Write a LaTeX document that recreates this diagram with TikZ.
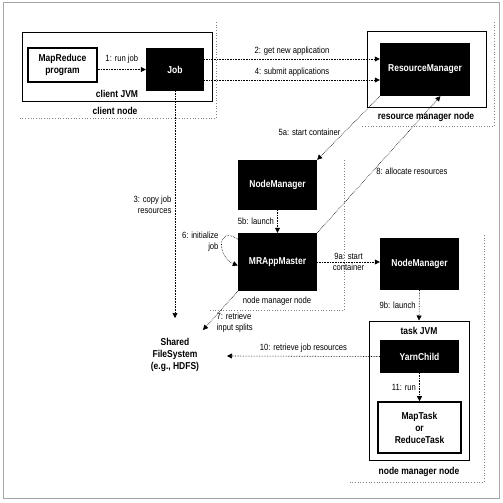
\documentclass[tikz,border=0pt]{standalone}
\usepackage{fontspec}
\setmainfont{Liberation Sans}[FakeStretch=0.85]
\usetikzlibrary{arrows.meta}

\begin{document}
\begin{tikzpicture}[x=1pt, y=-1pt, every node/.style={font=\fontsize{9}{11}\selectfont}, >={Triangle[length=5pt,width=5pt]},
	blk/.style={fill=black, text=white, font=\fontsize{10}{12}\selectfont\bfseries, inner sep=0pt, align=center},
	bx/.style={draw, line width=1pt, inner sep=0pt, align=center, font=\fontsize{10}{12}\selectfont\bfseries},
	hd/.style={font=\fontsize{10}{12}\selectfont\bfseries, align=center},
	flow/.style={->, densely dotted, line width=0.6pt},
	nodeline/.style={gray, dotted, line width=0.7pt}]
	\useasboundingbox (0,0) rectangle (503,503);
	\draw[gray!70, line width=1pt] (3,3) rectangle (499,498);
	% node boundaries
	\draw[nodeline] (216,22) -- (216,118) -- (20,118);
	\draw[nodeline] (494,22) -- (494,126) -- (362,126);
	\draw[nodeline] (344,160) -- (344,310) -- (208,310);
	\draw[nodeline] (484,235) -- (484,482) -- (350,482);
	% client node
	\node[bx, minimum width=190pt, minimum height=68pt] (cjvm) at (117,67) {};
	\node[bx, line width=1.6pt, minimum width=69pt, minimum height=34pt] (mr) at (62.5,65) {MapReduce\\program};
	\node[blk, minimum width=58pt, minimum height=43pt] (job) at (175,69.5) {Job};
	\node[hd] (cjvmlbl) at (117,94) {client JVM};
	\node[hd] (cnlbl) at (115,111) {client node};
	% resource manager node
	\node[bx, minimum width=119pt, minimum height=75pt] (rmbox) at (426.5,69.5) {};
	\node[blk, minimum width=90pt, minimum height=53pt] (rm) at (425,69.5) {ResourceManager};
	\node[hd] (rmlbl) at (426,117) {resource manager node};
	% node manager nodes
	\node[blk, minimum width=79pt, minimum height=50pt] (nm1) at (277.5,185) {NodeManager};
	\node[blk, minimum width=79pt, minimum height=58pt] (mram) at (277.5,262) {MRAppMaster};
	\node (nmlbl1) at (277,301) {node manager node};
	\node[blk, minimum width=79pt, minimum height=52pt] (nm2) at (419.5,264) {NodeManager};
	\node[bx, minimum width=100pt, minimum height=139pt] (tjvm) at (419,390.5) {};
	\node[hd] (tjvmlbl) at (419,331) {task JVM};
	\node[blk, minimum width=79pt, minimum height=33pt] (yc) at (419.5,356.5) {YarnChild};
	\node[bx, line width=1.6pt, minimum width=83pt, minimum height=51pt] (task) at (419.5,427.5) {MapTask\\or\\ReduceTask};
	\node[hd] (nmlbl2) at (419,472) {node manager node};
	% shared file system
	\node[hd] (fs) at (175,355) {Shared\\FileSystem\\(e.g., HDFS)};
	\coordinate (fs3) at (175,318);
	\coordinate (fs7) at (203,330);
	\coordinate (fs10) at (227,356);
	% steps
	\draw[flow] (job.west -| mr.east) -- (job.west) node[midway, above, yshift=2pt] {1: run job};
	\draw[flow] ([yshift=10.5pt]job.east) -- ([yshift=10.5pt]rm.west) node[midway, above] {2: get new application};
	\draw[flow] (job.south) -- (fs3) node[midway, left, align=right] {3: copy job\\resources};
	\draw[flow] ([yshift=-10.5pt]job.east) -- ([yshift=-10.5pt]rm.west) node[midway, above] {4: submit applications};
	\draw[flow] (rm.south west) -- (nm1.north east) node[pos=0.57, left] {5a: start container};
	\draw[flow] (nm1.south) -- (mram.north) node[midway, left] {5b: launch};
	\draw[flow] (mram.150) .. controls +(-22,-14) and +(-20,-8) .. (mram.185) node[pos=0.45, anchor=east, align=right] {6: initialize\\job};
	\draw[flow] (mram.south west) -- (fs7) node[pos=0.8, anchor=west, xshift=3pt, align=left] {7: retrieve\\input splits};
	\draw[flow] (mram.north east) -- (rm.-60) node[pos=0.45, right] {8: allocate resources};
	\draw[flow] (mram.east) -- (mram.east -| nm2.west) node[midway, align=center] {9a: start\\container};
	\draw[flow] (nm2.south) -- (tjvm.north) node[midway, left] {9b: launch};
	\draw[flow] (yc.west) -- (fs10) node[midway, above] {10: retrieve job resources};
	\draw[flow] (yc.south) -- (task.north) node[midway, left] {11: run};
\end{tikzpicture}
\end{document}
